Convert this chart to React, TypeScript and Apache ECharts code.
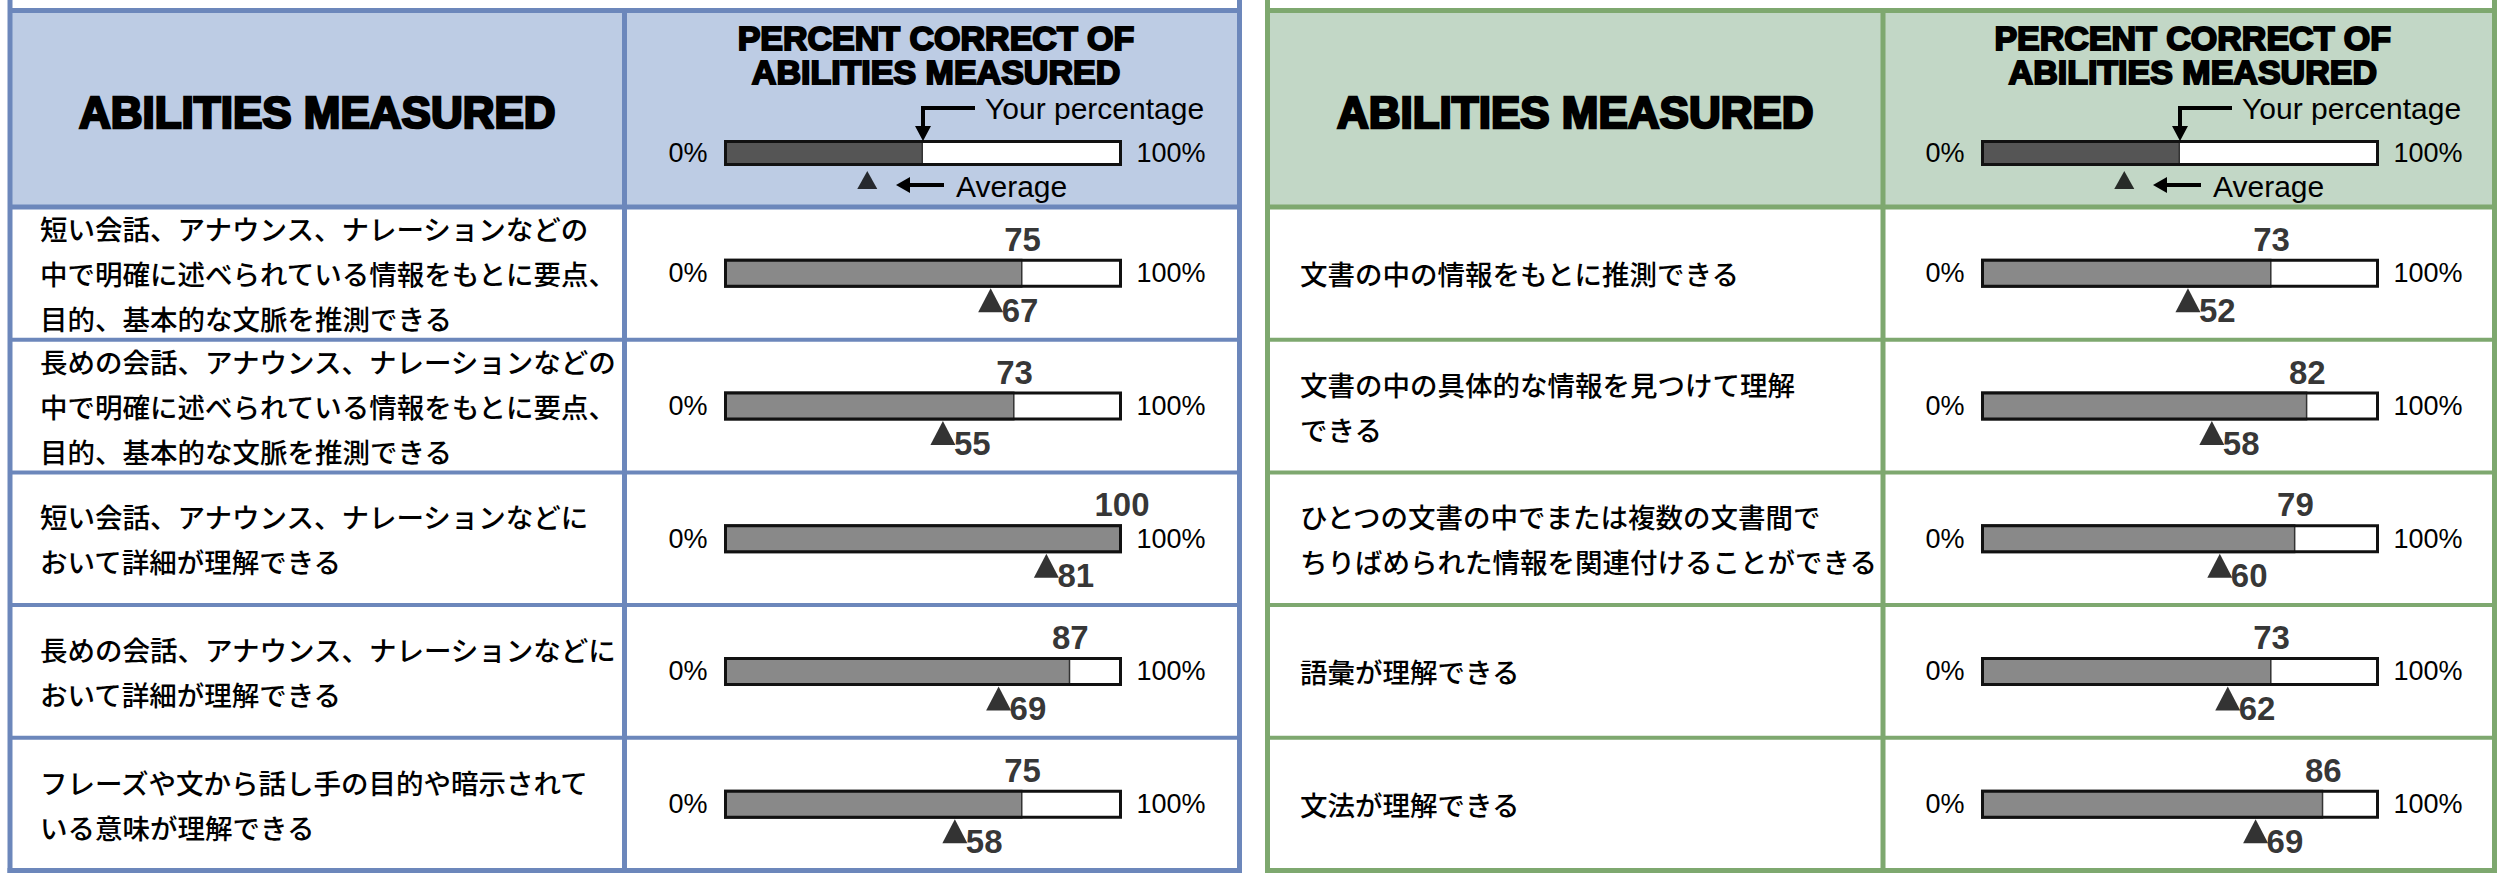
import React, { useEffect, useRef } from "react";
import * as echarts from "echarts";

// ---------- DATA ----------
const listeningAbilities = [
  "短い会話、アナウンス、ナレーションなどの\n中で明確に述べられている情報をもとに要点、\n目的、基本的な文脈を推測できる",
  "長めの会話、アナウンス、ナレーションなどの\n中で明確に述べられている情報をもとに要点、\n目的、基本的な文脈を推測できる",
  "短い会話、アナウンス、ナレーションなどに\nおいて詳細が理解できる",
  "長めの会話、アナウンス、ナレーションなどに\nおいて詳細が理解できる",
  "フレーズや文から話し手の目的や暗示されて\nいる意味が理解できる",
];
const listeningYour = [75, 73, 100, 87, 75];
const listeningAvg = [67, 55, 81, 69, 58];

const readingAbilities = [
  "文書の中の情報をもとに推測できる",
  "文書の中の具体的な情報を見つけて理解\nできる",
  "ひとつの文書の中でまたは複数の文書間で\nちりばめられた情報を関連付けることができる",
  "語彙が理解できる",
  "文法が理解できる",
];
const readingYour = [73, 82, 79, 73, 86];
const readingAvg = [52, 58, 60, 62, 69];

const legendYour = [50];
const legendAvg = [36];
const scaleMax = 100;
const scaleLabels = ["0%", "100%"];
const headerLeft = "ABILITIES MEASURED";
const headerRight = ["PERCENT CORRECT OF", "ABILITIES MEASURED"];
const legendYourText = "Your percentage";
const legendAvgText = "Average";

// ---------- LAYOUT ----------
const W = 2502;
const H = 876;
const HEAD_TOP = 10.5;
const ROW_TOP = 207;
const ROW_BOTTOM = 870.5;
const BAR_W = 398;
const LATIN = "'Liberation Sans', Arial, sans-serif";
const CJK = "'Noto Sans CJK JP', 'Noto Sans', sans-serif";

const tables = [
  {
    x0: 10, x1: 1239.5, div: 624.5, border: "#6C87BB", head: "#BDCCE4",
    barLeft: 724, textLeft: 40,
    abilities: listeningAbilities, your: listeningYour, avg: listeningAvg,
  },
  {
    x0: 1267.5, x1: 2494.5, div: 1883, border: "#7EA86F", head: "#C2D7C6",
    barLeft: 1981, textLeft: 1300,
    abilities: readingAbilities, your: readingYour, avg: readingAvg,
  },
];

function buildOption() {
  const grid: any[] = [];
  const xAxis: any[] = [];
  const yAxis: any[] = [];
  const series: any[] = [];
  const graphic: any[] = [];

  tables.forEach((t, k) => {
    const gRows = k * 2;
    const gHead = k * 2 + 1;
    const rowH = (ROW_BOTTOM - ROW_TOP) / t.abilities.length;

    grid.push({ left: t.barLeft, width: BAR_W, top: ROW_TOP, height: ROW_BOTTOM - ROW_TOP, containLabel: false });
    grid.push({ left: t.barLeft, width: BAR_W, top: 140, height: 26, containLabel: false });

    [gRows, gHead].forEach((gi) => {
      xAxis.push({ gridIndex: gi, type: "value", min: 0, max: scaleMax, show: false });
    });
    yAxis.push({
      gridIndex: gRows, type: "category", inverse: true, data: t.abilities,
      axisLine: { show: false }, axisTick: { show: false }, splitLine: { show: false },
      axisLabel: {
        interval: 0, align: "left", margin: t.barLeft - t.textLeft,
        fontFamily: CJK, fontSize: 27.5, fontWeight: 500, lineHeight: 45, color: "#000",
      },
    });
    yAxis.push({ gridIndex: gHead, type: "category", data: ["legend"], show: false });

    const makeBars = (gi: number, vals: number[], fill: string, bw: number) => {
      series.push({
        type: "bar", xAxisIndex: gi, yAxisIndex: gi, barWidth: bw, barGap: "-100%",
        data: vals.map(() => scaleMax), itemStyle: { color: "#fff" }, z: 2, silent: true,
      });
      series.push({
        type: "bar", xAxisIndex: gi, yAxisIndex: gi, barWidth: bw, barGap: "-100%",
        data: vals, itemStyle: { color: fill, borderColor: "#333", borderWidth: 1.5 }, z: 3, silent: true,
      });
      series.push({
        type: "bar", xAxisIndex: gi, yAxisIndex: gi, barWidth: bw, barGap: "-100%",
        data: vals.map(() => scaleMax),
        itemStyle: { color: "rgba(0,0,0,0)", borderColor: "#111", borderWidth: 3 }, z: 4, silent: true,
      });
    };

    // rows
    makeBars(gRows, t.your, "#898989", 29);
    series.push({
      type: "scatter", xAxisIndex: gRows, yAxisIndex: gRows, symbolSize: 1,
      itemStyle: { color: "rgba(0,0,0,0)" }, z: 5,
      data: t.your.map((v, i) => [v, i]),
      label: {
        show: true, position: "inside", offset: [0, -34],
        formatter: (p: any) => String(p.value[0]),
        fontFamily: LATIN, fontWeight: "bold", fontSize: 33, color: "#000",
      },
    });
    series.push({
      type: "scatter", xAxisIndex: gRows, yAxisIndex: gRows, symbol: "triangle",
      symbolSize: [25, 24], symbolOffset: [0, 27], itemStyle: { color: "#000" }, z: 5,
      data: t.avg.map((v, i) => [v, i]),
    });
    series.push({
      type: "scatter", xAxisIndex: gRows, yAxisIndex: gRows, symbolSize: 1,
      itemStyle: { color: "rgba(0,0,0,0)" }, z: 5,
      data: t.avg.map((v, i) => [v, i]),
      label: {
        show: true, position: "inside", align: "left", offset: [11, 37],
        formatter: (p: any) => String(p.value[0]),
        fontFamily: LATIN, fontWeight: "bold", fontSize: 33, color: "#000",
      },
    });

    // header legend bar
    makeBars(gHead, legendYour, "#555555", 26);
    series.push({
      type: "scatter", xAxisIndex: gHead, yAxisIndex: gHead, symbol: "triangle",
      symbolSize: [20, 18], symbolOffset: [0, 27], itemStyle: { color: "#000" }, z: 5,
      data: legendAvg.map((v) => [v, 0]),
    });

    // ---- table structure ----
    graphic.push({
      type: "rect", z: -10, shape: { x: t.x0, y: HEAD_TOP, width: t.x1 - t.x0, height: ROW_TOP - HEAD_TOP },
      style: { fill: t.head },
    });
    const line = (x1: number, y1: number, x2: number, y2: number, lw: number) =>
      graphic.push({ type: "line", z: 10, shape: { x1, y1, x2, y2 }, style: { stroke: t.border, lineWidth: lw } });
    line(t.x0, 0, t.x0, ROW_BOTTOM + 2.5, 5);
    line(t.x1, 0, t.x1, ROW_BOTTOM + 2.5, 5);
    line(t.div, HEAD_TOP, t.div, ROW_BOTTOM, 5);
    line(t.x0, HEAD_TOP, t.x1, HEAD_TOP, 5);
    line(t.x0, ROW_TOP, t.x1, ROW_TOP, 5);
    for (let i = 1; i < t.abilities.length; i++) line(t.x0, ROW_TOP + rowH * i, t.x1, ROW_TOP + rowH * i, 4);
    line(t.x0 - 2.5, ROW_BOTTOM, t.x1 + 2.5, ROW_BOTTOM, 5);

    // ---- header texts ----
    const txt = (x: number, y: number, text: string, size: number, weight: string, align: string, extra: any = {}) =>
      graphic.push({
        type: "text", z: 20, x, y,
        style: {
          text, fontSize: size, fontWeight: weight, fontFamily: LATIN, fill: "#000",
          align, verticalAlign: "middle", ...extra,
        },
      });
    txt((t.x0 + t.div) / 2, 112, headerLeft, 44, "bold", "center", { stroke: "#000", lineWidth: 2.5 });
    const colMid = (t.div + t.x1) / 2 + 4;
    txt(colMid, 38, headerRight[0], 34, "bold", "center", { stroke: "#000", lineWidth: 2 });
    txt(colMid, 72, headerRight[1], 34, "bold", "center", { stroke: "#000", lineWidth: 2 });

    // scale labels (header + rows)
    const leftX = t.barLeft - 36;
    const rightX = t.barLeft + BAR_W + 49;
    txt(leftX, 153, scaleLabels[0], 27, "normal", "center");
    txt(rightX, 153, scaleLabels[1], 27, "normal", "center");
    t.abilities.forEach((_, i) => {
      const cy = ROW_TOP + rowH * (i + 0.5);
      txt(leftX, cy, scaleLabels[0], 27, "normal", "center");
      txt(rightX, cy, scaleLabels[1], 27, "normal", "center");
    });

    // legend arrows
    const midX = t.barLeft + (legendYour[0] / scaleMax) * BAR_W;
    graphic.push({
      type: "polyline", z: 20,
      shape: { points: [[midX + 52, 108], [midX, 108], [midX, 128]] },
      style: { stroke: "#000", lineWidth: 4, fill: null },
    });
    graphic.push({
      type: "polygon", z: 20,
      shape: { points: [[midX - 8, 126], [midX + 8, 126], [midX, 141]] },
      style: { fill: "#000" },
    });
    txt(midX + 62, 108, legendYourText, 30, "normal", "left");

    const ax = t.barLeft;
    graphic.push({
      type: "line", z: 20, shape: { x1: ax + 220, y1: 185, x2: ax + 184, y2: 185 },
      style: { stroke: "#000", lineWidth: 4 },
    });
    graphic.push({
      type: "polygon", z: 20,
      shape: { points: [[ax + 172, 185], [ax + 186, 177], [ax + 186, 193]] },
      style: { fill: "#000" },
    });
    txt(ax + 232, 186, legendAvgText, 30, "normal", "left");
  });

  return {
    animation: false,
    backgroundColor: "#ffffff",
    grid, xAxis, yAxis, series, graphic,
  };
}

export default function App() {
  const ref = useRef<HTMLDivElement>(null);
  useEffect(() => {
    if (!ref.current) return;
    const chart = echarts.init(ref.current, null, { renderer: "svg", width: W, height: H });
    chart.setOption(buildOption() as any);
    return () => chart.dispose();
  }, []);
  return (
    <div
      ref={ref}
      style={{ position: "fixed", left: 0, top: 0, width: W, height: H, background: "#fff" }}
    />
  );
}
